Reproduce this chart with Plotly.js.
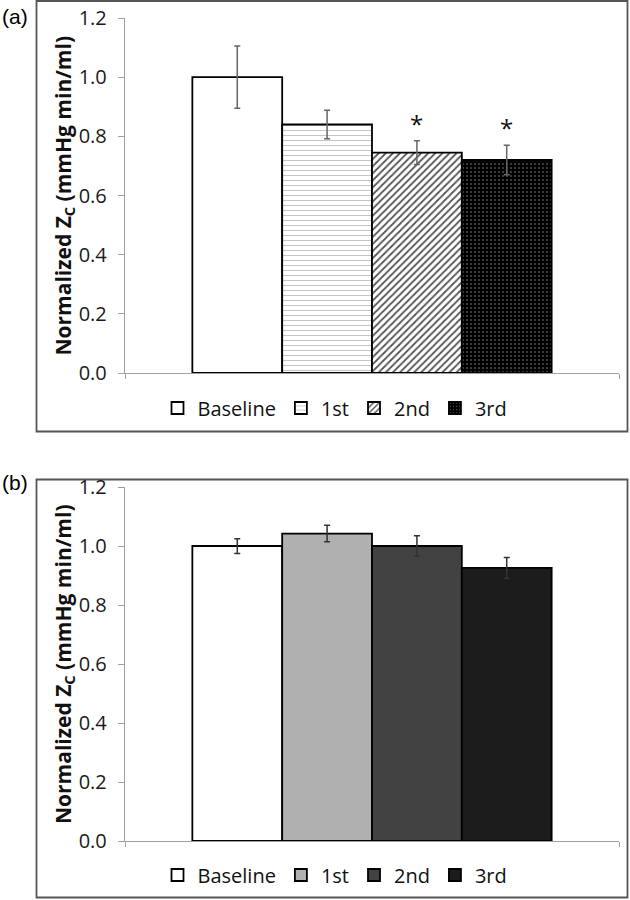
<!DOCTYPE html>
<html>
<head>
<meta charset="utf-8">
<script src="https://cdn.plot.ly/plotly-3.0.1.min.js"></script>
<style>html,body{margin:0;padding:0;background:#fff;}#chart{width:630px;height:900px;}</style>
</head>
<body>
<div id="chart"></div>
<script>
// ---- data ----
const categories = ['Baseline', '1st', '2nd', '3rd'];
const aValues = [1.0, 0.84, 0.745, 0.72];
const aErrors = [0.105, 0.048, 0.04, 0.05];
const aStars = ['', '', '*', '*'];
const bValues = [1.0, 1.042, 1.0, 0.926];
const bErrors = [0.025, 0.028, 0.035, 0.035];
const yTickVals = [0, 0.2, 0.4, 0.6, 0.8, 1.0, 1.2];
const yTickText = ['0.0', '0.2', '0.4', '0.6', '0.8', '1.0', '1.2'];
const yTitle = '<b>Normalized Z<sub>C</sub> (mmHg min/ml)</b>';
const panelLabels = ['(a)', '(b)'];

// ---- styles ----
const W = 630, H = 900;
const px = v => v / W;
const py = v => 1 - v / H;
const FONT = 'Open Sans, Noto Sans, sans-serif';

const aMarkers = [
  {color: '#ffffff', line: {color: '#000', width: 1.8}},
  {color: '#ffffff', line: {color: '#000', width: 1.8},
   pattern: {shape: '-', fgcolor: '#c4c4c4', bgcolor: '#ffffff', size: 5, solidity: 0.2}},
  {color: '#ffffff', line: {color: '#000', width: 1.8},
   pattern: {shape: '/', fgcolor: '#555555', bgcolor: '#ffffff', size: 5, solidity: 0.35}},
  {color: '#000000', line: {color: '#000', width: 1.8},
   pattern: {shape: '.', fgcolor: '#8a8a8a', bgcolor: '#000000', size: 4, solidity: 0.12}}
];
const bColors = ['#ffffff', '#b0b0b0', '#424242', '#1c1c1c'];

const traces = [];
categories.forEach((c, i) => {
  traces.push({
    type: 'bar', x: [c], y: [aValues[i]], name: c,
    xaxis: 'x', yaxis: 'y', legend: 'legend',
    marker: aMarkers[i],
    error_y: {type: 'data', array: [aErrors[i]], color: '#666', thickness: 1.5, width: 3},
    hoverinfo: 'skip'
  });
});
categories.forEach((c, i) => {
  traces.push({
    type: 'bar', x: [c], y: [bValues[i]], name: c,
    xaxis: 'x2', yaxis: 'y2', legend: 'legend2',
    marker: {color: bColors[i], line: {color: '#000', width: 1.8}},
    error_y: {type: 'data', array: [bErrors[i]], color: '#333', thickness: 1.5, width: 3},
    hoverinfo: 'skip'
  });
});

const xDomain = [px(125), px(619)];
const xRange = [-1.25, categories.length - 1 + 1.25];
function xAxis(anchor) {
  return {
    domain: xDomain, anchor: anchor, type: 'category', range: xRange,
    categoryorder: 'array', categoryarray: categories,
    showline: true, linecolor: '#a0a0a0', linewidth: 1.2,
    tickmode: 'array', tickvals: xRange, ticktext: ['', ''],
    ticks: 'outside', ticklen: 5, tickcolor: '#a0a0a0', showgrid: false, zeroline: false,
    fixedrange: true
  };
}
function yAxis(anchor, domain) {
  return {
    domain: domain, anchor: anchor, range: [0, 1.2],
    tickmode: 'array', tickvals: yTickVals, ticktext: yTickText,
    ticks: 'outside', ticklen: 6, tickcolor: '#a0a0a0',
    ticklabelstandoff: 7,
    showline: true, linecolor: '#a0a0a0', linewidth: 1.2,
    showgrid: false, zeroline: false,
    tickfont: {family: FONT, size: 20, color: '#1a1a1a'},
    fixedrange: true
  };
}

const annotations = [];
categories.forEach((c, i) => {
  if (aStars[i]) {
    annotations.push({
      xref: 'x', yref: 'y', x: c, y: aValues[i] + aErrors[i],
      text: aStars[i], showarrow: false, yanchor: 'bottom', yshift: -1,
      font: {family: FONT, size: 24, color: '#111'}
    });
  }
});
annotations.push(
  {xref: 'paper', yref: 'paper', x: px(64), y: py(195.5), text: yTitle, textangle: -90,
   showarrow: false, xanchor: 'center', yanchor: 'middle',
   font: {family: FONT, size: 21, color: '#111'}},
  {xref: 'paper', yref: 'paper', x: px(64), y: py(664), text: yTitle, textangle: -90,
   showarrow: false, xanchor: 'center', yanchor: 'middle',
   font: {family: FONT, size: 21, color: '#111'}},
  {xref: 'paper', yref: 'paper', x: 0, y: py(17), text: panelLabels[0], showarrow: false,
   xanchor: 'left', yanchor: 'middle', font: {family: 'Liberation Sans, Arial, sans-serif', size: 21, color: '#000'}},
  {xref: 'paper', yref: 'paper', x: 0, y: py(482), text: panelLabels[1], showarrow: false,
   xanchor: 'left', yanchor: 'middle', font: {family: 'Liberation Sans, Arial, sans-serif', size: 21, color: '#000'}}
);

const legendBase = {
  orientation: 'h', xanchor: 'center', yanchor: 'middle', x: px(335),
  font: {family: FONT, size: 20, color: '#111'}, bgcolor: 'rgba(0,0,0,0)',
  itemclick: false, itemdoubleclick: false, traceorder: 'normal'
};

const layout = {
  width: W, height: H,
  margin: {l: 0, r: 0, t: 0, b: 0},
  paper_bgcolor: '#fff', plot_bgcolor: '#fff',
  barmode: 'overlay', bargap: 0,
  showlegend: true,
  font: {family: FONT},
  xaxis: xAxis('y'),
  yaxis: yAxis('x', [py(373), py(18)]),
  xaxis2: xAxis('y2'),
  yaxis2: yAxis('x2', [py(841), py(487)]),
  legend: Object.assign({}, legendBase, {y: py(408)}),
  legend2: Object.assign({}, legendBase, {y: py(875)}),
  annotations: annotations,
  shapes: [
    {type: 'rect', xref: 'paper', yref: 'paper', x0: px(36.5), x1: px(627.5), y0: py(431.5), y1: py(1),
     line: {color: '#555', width: 1.8}, fillcolor: 'rgba(0,0,0,0)', layer: 'below'},
    {type: 'rect', xref: 'paper', yref: 'paper', x0: px(36.5), x1: px(627.5), y0: py(897.5), y1: py(479.5),
     line: {color: '#555', width: 1.8}, fillcolor: 'rgba(0,0,0,0)', layer: 'below'}
  ]
};

Plotly.newPlot('chart', traces, layout, {displayModeBar: false, staticPlot: true});
</script>
</body>
</html>
